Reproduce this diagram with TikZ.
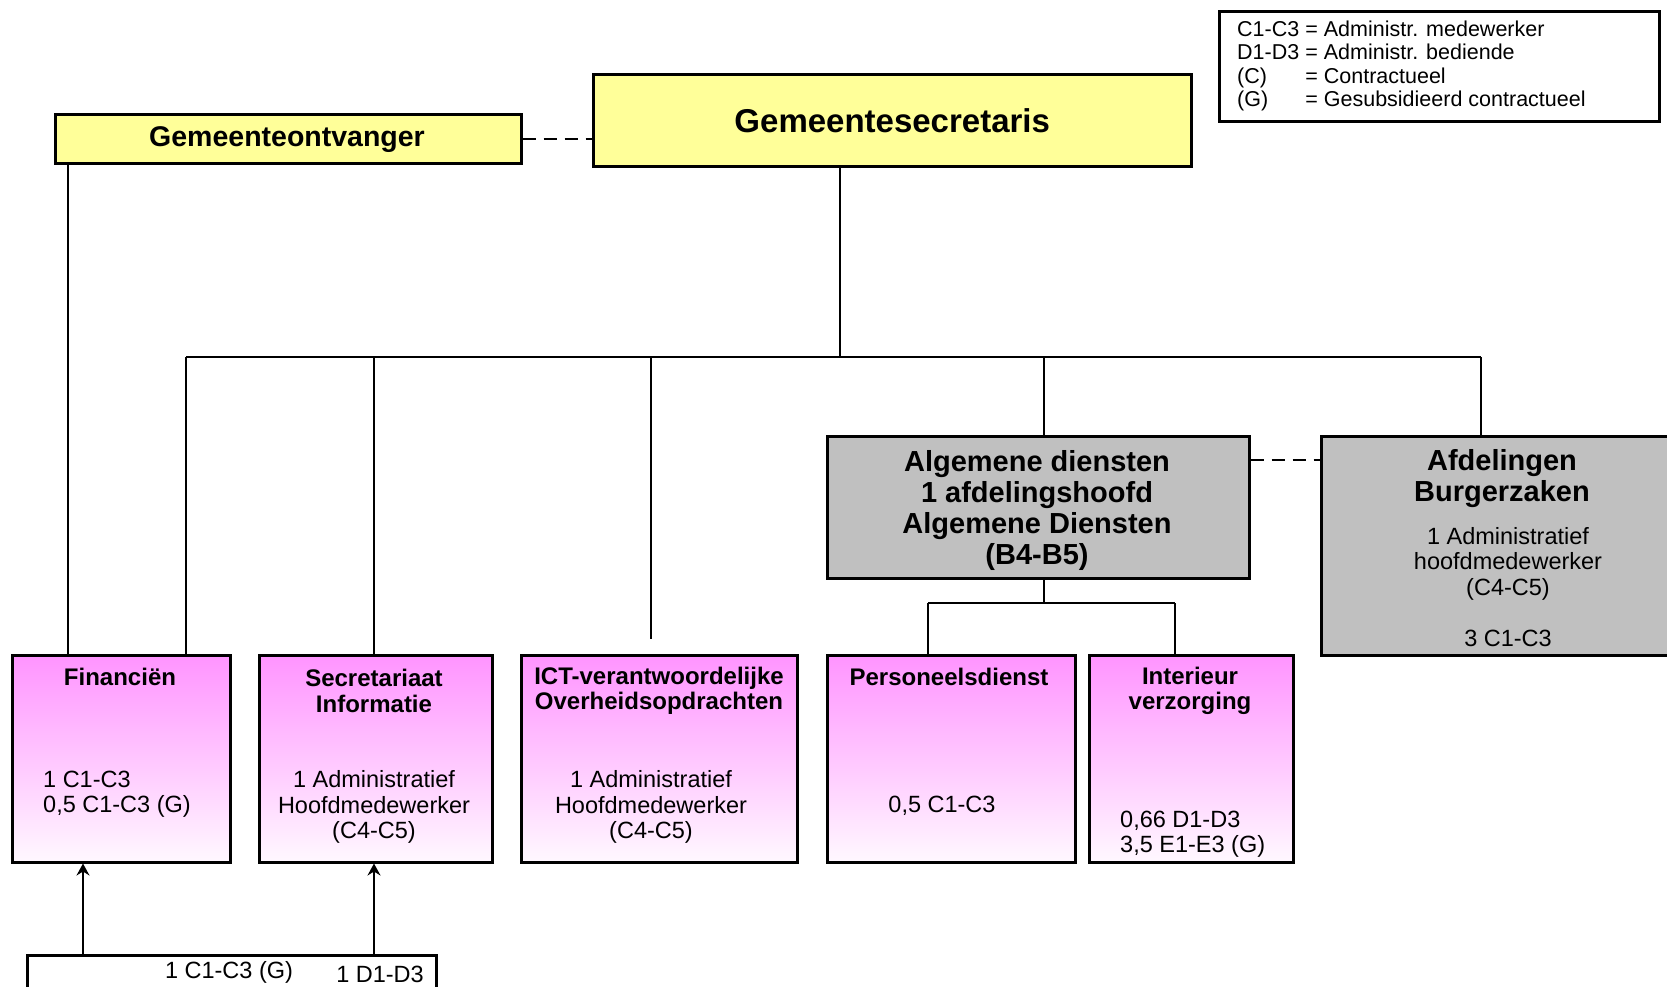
\documentclass[tikz,border=0pt]{standalone}
\usepackage{fontspec}
\setmainfont{Liberation Sans}
\usetikzlibrary{arrows.meta}
\definecolor{boxyellow}{HTML}{FFFF99}
\definecolor{boxgray}{HTML}{C0C0C0}
\definecolor{pinktop}{HTML}{FF94FF}
\definecolor{pinkbot}{HTML}{FFF8FF}
\begin{document}
\begin{tikzpicture}[x=1pt,y=-1pt]
\tikzset{
 bx/.style={draw=black, line width=2.5pt, inner sep=0pt, anchor=north west},
 ybox/.style={bx, fill=boxyellow},
 gbox/.style={bx, fill=boxgray},
 pbox/.style={bx, top color=pinktop, bottom color=pinkbot},
 conn/.style={line width=2.2pt, draw=black},
 dsh/.style={conn, line width=2.4pt, dash pattern=on 13pt off 8pt},
 ttl/.style={font=\fontsize{24}{25.5}\selectfont\bfseries, align=center, inner sep=0pt},
 bdy/.style={font=\fontsize{23.5}{25.5}\selectfont, align=center, inner sep=0pt},
 bdyl/.style={font=\fontsize{23.5}{25.5}\selectfont, align=left, inner sep=0pt, anchor=west},
 bigttl/.style={font=\fontsize{29}{31}\selectfont\bfseries, align=center, inner sep=0pt},
 lgd/.style={font=\fontsize{21.5}{23.4}\selectfont, align=left, inner sep=0pt, anchor=west},
 arr/.style={conn, -{Stealth[length=12pt,width=13pt,inset=4pt]}},
}
\clip (0,0) rectangle (1667,986);
\fill[white] (0,0) rectangle (1667,986);

% legend
\node[bx, minimum width=440pt, minimum height=110pt] (leg) at (1218,10) {};
\node[lgd] (legt) at (1237,66) {\makebox[3.17em][l]{C1-C3}= Administr. medewerker\\
\makebox[3.17em][l]{D1-D3}= Administr. bediende\\
\makebox[3.17em][l]{(C)}= Contractueel\\
\makebox[3.17em][l]{(G)}= Gesubsidieerd contractueel};

% top boxes
\node[ybox, minimum width=598pt, minimum height=92pt, font=\fontsize{33}{35}\selectfont\bfseries] (sec) at (592,73) {Gemeentesecretaris};
\node[ybox, minimum width=466pt, minimum height=49pt] (ontv) at (54,113) {};
\node[font=\fontsize{28.5}{30}\selectfont\bfseries, inner sep=0pt] (ontvt) at (287,140) {Gemeenteontvanger};

% grey boxes
\node[gbox, minimum width=422pt, minimum height=142pt] (alg) at (826,435) {};
\node[bigttl] (algt) at (1037,510) {Algemene diensten\\1 afdelingshoofd\\Algemene Diensten\\(B4-B5)};
\node[gbox, minimum width=380pt, minimum height=219pt] (afd) at (1320,435) {};
\node[bigttl] (afdt) at (1502,479) {Afdelingen\\Burgerzaken};
\node[bdy] (afdb) at (1508,587) {1 Administratief\\hoofdmedewerker\\(C4-C5)\\[25.5pt]3 C1-C3};

% pink boxes
\node[pbox, minimum width=218pt, minimum height=207pt] (fin) at (11,654) {};
\node[ttl] (fint) at (120,677) {Financiën};
\node[bdyl] (finb) at (43,794) {1 C1-C3\\0,5 C1-C3 (G)};

\node[pbox, minimum width=233pt, minimum height=207pt] (sin) at (258,654) {};
\node[ttl] (sint) at (374,691) {Secretariaat\\Informatie};
\node[bdy] (sinb) at (374,807) {1 Administratief\\Hoofdmedewerker\\(C4-C5)};

\node[pbox, minimum width=276pt, minimum height=207pt] (ict) at (520,654) {};
\node[ttl] (ictt) at (659,691) {ICT-verantwoordelijke\\Overheidsopdrachten};
\node[bdy] (ictb) at (651,807) {1 Administratief\\Hoofdmedewerker\\(C4-C5)};

\node[pbox, minimum width=248pt, minimum height=207pt] (pers) at (826,654) {};
\node[ttl] (perst) at (949,677) {Personeelsdienst};
\node[bdy] (persb) at (942,806) {0,5 C1-C3};

\node[pbox, minimum width=204pt, minimum height=207pt] (int) at (1088,654) {};
\node[ttl] (intt) at (1190,691) {Interieur\\verzorging};
\node[bdyl] (intb) at (1120,834) {0,66 D1-D3\\3,5 E1-E3 (G)};

% bottom box
\node[bx, minimum width=409pt, minimum height=80pt] (bot) at (26,954) {};
\node[bdy] (bott1) at (229,972) {1 C1-C3 (G)};
\node[bdy] (bott2) at (380,974) {1 D1-D3};

% connectors
\coordinate (s0) at (840,357);
\coordinate (bL) at (186,357);
\coordinate (bR) at (1481,357);
\coordinate (b2) at (374,357);
\coordinate (b3) at (651,357);
\coordinate (b3e) at (651,639);
\coordinate (b4) at (1044,357);
\coordinate (o1) at (68,0);
\coordinate (d2) at (1248,460);
\coordinate (a0) at (1044,603);
\coordinate (aL) at (928,603);
\coordinate (aR) at (1175,603);
\coordinate (u1) at (83,0);

\draw[conn] (sec.south -| s0) -- (s0);
\draw[conn] (bL) -- (bR);
\draw[conn] (bL) -- (bL |- fin.north);
\draw[conn] (b2) -- (b2 |- sin.north);
\draw[conn] (b3) -- (b3e);
\draw[conn] (b4) -- (b4 |- alg.north);
\draw[conn] (bR) -- (bR |- afd.north);
\draw[conn] (o1 |- ontv.south) -- (o1 |- fin.north);
\draw[dsh] (ontv.east) -- (ontv.east -| sec.west);
\draw[dsh] (alg.east |- d2) -- (afd.west |- d2);
\draw[conn] (alg.south -| a0) -- (a0);
\draw[conn] (aL) -- (aR);
\draw[conn] (aL) -- (aL |- pers.north);
\draw[conn] (aR) -- (aR |- int.north);
\draw[arr] (u1 |- bot.north) -- (u1 |- fin.south);
\draw[arr] (b2 |- bot.north) -- (b2 |- sin.south);
\end{tikzpicture}
\end{document}
